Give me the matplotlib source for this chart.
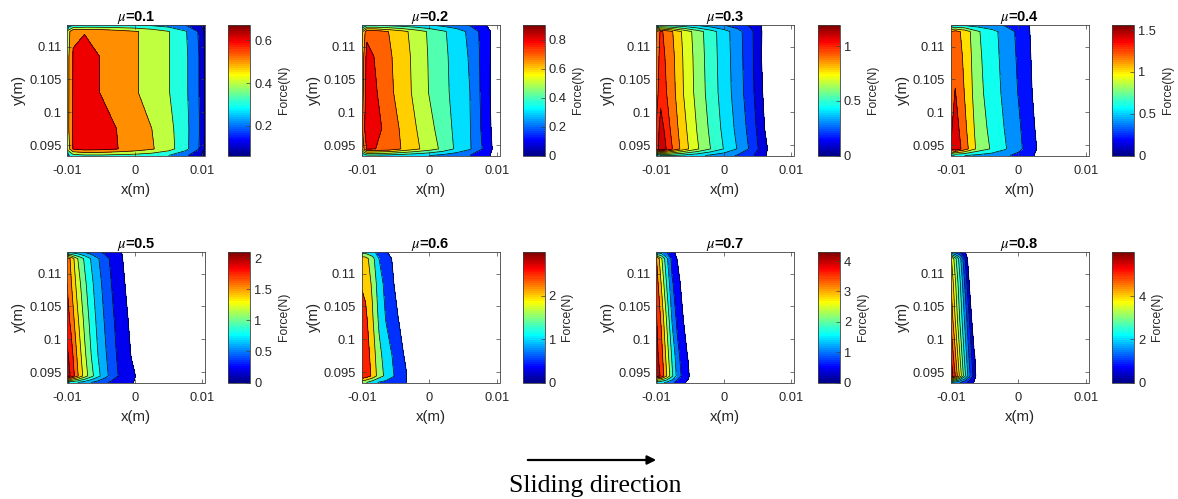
import numpy as np
import matplotlib
matplotlib.use("Agg")
import matplotlib.pyplot as plt
from matplotlib import colors as mcolors
from matplotlib.cm import ScalarMappable
from matplotlib.ticker import FuncFormatter

plt.rcParams['font.family'] = 'Liberation Sans'
plt.rcParams['axes.unicode_minus'] = False
plt.rcParams['mathtext.fontset'] = 'stix'

# friction coefficients, one panel each
mu_values = [0.1, 0.2, 0.3, 0.4, 0.5, 0.6, 0.7, 0.8]

# node rows (mm), bottom edge -> top edge
y_nodes = [93.4, 94.4, 97.5, 103.0, 108.5, 112.3, 113.3]

# node columns (mm) for each panel
x_nodes = [
    [-10.1, -9.2, -7.5, -5.0, -2.5, 0.0, 2.5, 5.0, 7.5, 9.5, 10.4],
    [-10.1, -9.3, -8.0, -6.0, -4.0, -2.0, 0.0, 2.0, 4.0, 6.0, 8.0, 9.6, 10.4],
    [-10.1, -9.4, -8.0, -6.0, -4.0, -2.0, 0.0, 2.0, 4.0, 5.5, 7.0, 10.4],
    [-10.1, -9.4, -8.0, -6.0, -4.0, -2.0, 0.0, 1.5, 3.0, 10.4],
    [-10.1, -9.5, -8.5, -7.5, -6.5, -5.5, -4.5, -3.5, -2.5, -1.5, -0.5, 0.5, 10.4],
    [-10.1, -9.5, -8.5, -7.5, -6.5, -5.5, -4.5, -3.5, -2.5, 10.4],
    [-10.1, -9.3, -8.5, -7.7, -6.9, -6.1, -5.3, -4.5, 10.4],
    [-10.1, -9.4, -8.7, -8.0, -7.3, -6.6, -5.9, 10.4],
]

# contact force at the nodes (N), rows follow y_nodes
force_mu01 = [
    [0.25, 0.36, 0.38, 0.38, 0.37, 0.36, 0.34, 0.30, 0.22, 0.12, 0.06],
    [0.42, 0.605, 0.64, 0.63, 0.60, 0.56, 0.51, 0.44, 0.33, 0.20, 0.09],
    [0.45, 0.62, 0.672, 0.645, 0.595, 0.56, 0.50, 0.43, 0.33, 0.21, 0.10],
    [0.45, 0.61, 0.645, 0.595, 0.55, 0.51, 0.46, 0.405, 0.32, 0.20, 0.09],
    [0.45, 0.605, 0.64, 0.595, 0.55, 0.51, 0.46, 0.405, 0.32, 0.20, 0.09],
    [0.42, 0.59, 0.595, 0.585, 0.545, 0.51, 0.465, 0.405, 0.31, 0.19, 0.08],
    [0.22, 0.28, 0.30, 0.30, 0.30, 0.30, 0.28, 0.25, 0.20, 0.12, 0.06],
]
force_mu02 = [
    [0.28, 0.37, 0.37, 0.36, 0.34, 0.32, 0.30, 0.27, 0.24, 0.20, 0.15, 0.07, 0.0],
    [0.60, 0.81, 0.80, 0.77, 0.69, 0.62, 0.55, 0.475, 0.38, 0.31, 0.19, 0.08, 0.0],
    [0.66, 0.90, 0.835, 0.758, 0.68, 0.603, 0.53, 0.45, 0.375, 0.305, 0.175, 0.07, 0.0],
    [0.62, 0.86, 0.81, 0.725, 0.65, 0.573, 0.494, 0.43, 0.365, 0.30, 0.167, 0.06, 0.0],
    [0.60, 0.84, 0.79, 0.715, 0.645, 0.568, 0.49, 0.425, 0.36, 0.29, 0.165, 0.065, 0.0],
    [0.55, 0.77, 0.76, 0.697, 0.63, 0.556, 0.484, 0.416, 0.352, 0.275, 0.16, 0.07, 0.0],
    [0.26, 0.36, 0.37, 0.36, 0.34, 0.32, 0.30, 0.27, 0.24, 0.19, 0.12, 0.04, 0.0],
]
force_mu03 = [
    [0.30, 0.50, 0.50, 0.47, 0.43, 0.38, 0.34, 0.29, 0.22, 0.15, 0.05, 0.0],
    [1.00, 1.197, 1.03, 0.85, 0.715, 0.60, 0.495, 0.395, 0.28, 0.17, 0.06, 0.0],
    [1.00, 1.15, 1.00, 0.83, 0.695, 0.58, 0.475, 0.375, 0.26, 0.145, 0.02, 0.0],
    [0.95, 1.06, 0.963, 0.798, 0.667, 0.557, 0.455, 0.353, 0.235, 0.12, 0.0, 0.0],
    [0.93, 1.04, 0.95, 0.79, 0.66, 0.55, 0.45, 0.345, 0.23, 0.105, 0.0, 0.0],
    [0.88, 1.02, 0.93, 0.775, 0.65, 0.545, 0.445, 0.34, 0.225, 0.11, 0.0, 0.0],
    [0.30, 0.45, 0.45, 0.42, 0.38, 0.34, 0.30, 0.25, 0.18, 0.10, 0.0, 0.0],
]
force_mu04 = [
    [0.50, 0.62, 0.60, 0.55, 0.50, 0.43, 0.35, 0.27, 0.14, 0.0],
    [1.40, 1.56, 1.30, 0.93, 0.78, 0.62, 0.45, 0.32, 0.17, 0.0],
    [1.35, 1.50, 1.25, 0.90, 0.75, 0.59, 0.43, 0.30, 0.14, 0.0],
    [1.30, 1.41, 1.19, 0.86, 0.71, 0.55, 0.39, 0.255, 0.10, 0.0],
    [1.25, 1.33, 1.16, 0.84, 0.69, 0.53, 0.37, 0.235, 0.08, 0.0],
    [1.20, 1.28, 1.13, 0.82, 0.675, 0.515, 0.355, 0.22, 0.06, 0.0],
    [0.45, 0.55, 0.55, 0.50, 0.45, 0.38, 0.30, 0.21, 0.05, 0.0],
]
force_mu05 = [
    [0.70, 0.85, 0.80, 0.70, 0.60, 0.52, 0.44, 0.36, 0.30, 0.25, 0.22, 0.15, 0.0],
    [2.10, 1.97, 1.62, 1.32, 1.07, 0.86, 0.68, 0.53, 0.40, 0.31, 0.24, 0.17, 0.0],
    [2.05, 1.90, 1.55, 1.25, 1.00, 0.80, 0.64, 0.49, 0.37, 0.28, 0.19, 0.09, 0.0],
    [1.90, 1.74, 1.43, 1.15, 0.92, 0.74, 0.585, 0.445, 0.335, 0.245, 0.15, 0.05, 0.0],
    [1.80, 1.62, 1.30, 1.05, 0.85, 0.68, 0.53, 0.40, 0.29, 0.20, 0.10, 0.02, 0.0],
    [1.75, 1.55, 1.20, 0.97, 0.78, 0.62, 0.48, 0.36, 0.26, 0.17, 0.07, 0.0, 0.0],
    [0.60, 0.70, 0.65, 0.58, 0.50, 0.43, 0.36, 0.30, 0.24, 0.16, 0.05, 0.0, 0.0],
]
force_mu06 = [
    [1.60, 1.55, 1.20, 0.95, 0.85, 0.75, 0.65, 0.52, 0.0, 0.0],
    [3.00, 2.85, 2.40, 1.75, 1.38, 1.06, 0.80, 0.56, 0.0, 0.0],
    [2.95, 2.80, 2.30, 1.65, 1.28, 0.98, 0.72, 0.40, 0.0, 0.0],
    [2.80, 2.64, 2.08, 1.41, 0.99, 0.73, 0.47, 0.0, 0.0, 0.0],
    [2.45, 2.35, 1.92, 1.22, 0.86, 0.58, 0.20, 0.0, 0.0, 0.0],
    [2.30, 2.20, 1.70, 1.00, 0.76, 0.46, 0.10, 0.0, 0.0, 0.0],
    [1.30, 1.30, 1.15, 0.80, 0.55, 0.30, 0.0, 0.0, 0.0, 0.0],
]
force_mu07 = [
    [1.50, 1.60, 1.40, 1.10, 0.80, 0.60, 0.40, 0.0, 0.0],
    [4.30, 3.90, 3.00, 2.10, 1.30, 0.85, 0.60, 0.0, 0.0],
    [4.20, 3.70, 2.80, 1.90, 1.15, 0.75, 0.45, 0.0, 0.0],
    [4.10, 3.40, 2.44, 1.44, 0.85, 0.54, 0.0, 0.0, 0.0],
    [3.85, 2.95, 1.95, 1.05, 0.75, 0.25, 0.0, 0.0, 0.0],
    [3.60, 2.60, 1.60, 0.85, 0.45, 0.0, 0.0, 0.0, 0.0],
    [1.20, 1.20, 1.00, 0.65, 0.30, 0.0, 0.0, 0.0, 0.0],
]
force_mu08 = [
    [2.00, 1.80, 1.50, 1.20, 0.80, 0.45, 0.0, 0.0],
    [6.05, 5.00, 3.85, 2.70, 1.65, 0.80, 0.0, 0.0],
    [5.60, 4.60, 3.50, 2.40, 1.40, 0.60, 0.0, 0.0],
    [5.00, 4.00, 2.95, 1.95, 1.00, 0.0, 0.0, 0.0],
    [4.60, 3.60, 2.60, 1.50, 0.47, 0.0, 0.0, 0.0],
    [4.20, 3.20, 2.20, 1.10, 0.10, 0.0, 0.0, 0.0],
    [1.50, 1.30, 1.00, 0.60, 0.0, 0.0, 0.0, 0.0],
]
forces = [force_mu01, force_mu02, force_mu03, force_mu04,
          force_mu05, force_mu06, force_mu07, force_mu08]

level_steps = [0.1, 0.1, 0.1, 0.2, 0.2, 0.5, 0.5, 0.5]
cbar_ticks = [[0.2, 0.4, 0.6], [0, 0.2, 0.4, 0.6, 0.8], [0, 0.5, 1], [0, 0.5, 1, 1.5],
              [0, 0.5, 1, 1.5, 2], [0, 1, 2], [0, 1, 2, 3, 4], [0, 2, 4]]
x_ticks = [-0.01, 0, 0.01]
y_ticks = [0.095, 0.1, 0.105, 0.11]


def matlab_jet(m=64):
    # same construction as MATLAB's jet(m)
    n = int(np.ceil(m / 4))
    u = np.r_[np.arange(1, n + 1) / n, np.ones(n - 1), np.arange(n, 0, -1) / n]
    g = int(np.ceil(n / 2)) - (m % 4 == 1) + np.arange(1, len(u) + 1)
    r, b = g + n, g - n
    J = np.zeros((m, 3))
    J[g[g <= m] - 1, 1] = u[g <= m]
    J[r[r <= m] - 1, 0] = u[r <= m]
    J[b[b >= 1] - 1, 2] = u[b >= 1]
    return mcolors.ListedColormap(J)


jet = matlab_jet()

W, H = 1178, 499
fig = plt.figure(figsize=(W / 100, H / 100), dpi=100)

ax_left = [67, 361.5, 656, 950.5]
cb_left = [228.3, 522.5, 817.7, 1112.3]
row_top = [25, 252]
ax_w, cb_w, ax_h = 138, 22, 130.5

fmt = FuncFormatter(lambda v, p: f'{v:g}')
frame = '#404040'
tick_fs = 9.3

for k, mu in enumerate(mu_values):
    row, col = divmod(k, 4)
    bottom = 1 - (row_top[row] + ax_h) / H
    ax = fig.add_axes([ax_left[col] / W, bottom, ax_w / W, ax_h / H])
    cax = fig.add_axes([cb_left[col] / W, bottom, cb_w / W, ax_h / H])

    xs = np.array(x_nodes[k]) * 1e-3
    ys = np.array(y_nodes) * 1e-3
    Z = np.array(forces[k])
    vmin, vmax = Z.min(), Z.max()
    step = level_steps[k]

    lines = np.arange(step, vmax, step)
    fill = lines.copy()
    if vmin > 0:
        fill = np.r_[vmin - 1e-9, fill]
    fill = np.r_[fill, vmax + 1e-9]
    norm = mcolors.Normalize(vmin, vmax)
    # each band takes the colour of its lower level
    band_cols = jet(np.clip(norm(fill[:-1]), 0, 0.9999))
    ax.contourf(xs, ys, Z, levels=fill, colors=band_cols)
    ax.contour(xs, ys, Z, levels=lines, colors='k', linewidths=0.5)

    ax.set_xlim(-0.0101, 0.0104)
    ax.set_ylim(0.0934, 0.1133)
    ax.set_xticks(x_ticks)
    ax.set_yticks(y_ticks)
    ax.xaxis.set_major_formatter(fmt)
    ax.yaxis.set_major_formatter(fmt)
    ax.tick_params(direction='in', length=3, width=0.5, top=True, right=True,
                   labelsize=tick_fs, colors=frame, labelcolor='#262626', pad=4)
    ax.tick_params(axis='x', pad=7)
    for s in ax.spines.values():
        s.set_color(frame)
        s.set_linewidth(0.6)
    ax.set_xlabel('x(m)', fontsize=10.8, color='#262626', labelpad=4)
    ax.set_ylabel('y(m)', fontsize=10.8, color='#262626', labelpad=2)
    ax.set_title(r'$\mu$' + f'={mu:g}', fontsize=10.5, fontweight='bold', pad=3)

    cb = fig.colorbar(ScalarMappable(norm=norm, cmap=jet), cax=cax)
    cb.set_ticks(cbar_ticks[k])
    cb.ax.yaxis.set_major_formatter(fmt)
    cb.ax.tick_params(direction='in', length=3, width=0.5, labelsize=tick_fs,
                      colors=frame, labelcolor='#262626', pad=3)
    cb.outline.set_edgecolor(frame)
    cb.outline.set_linewidth(0.6)
    cb.set_label('Force(N)', fontsize=8.8, color='#262626', labelpad=4)

# sliding direction arrow and caption
fig.patches.append(matplotlib.patches.FancyArrowPatch(
    (525 / W, 1 - 460 / H), (659 / W, 1 - 460 / H), transform=fig.transFigure,
    arrowstyle='-|>', mutation_scale=13, lw=1.6, color='k'))
fig.text(595 / W, 1 - 486 / H, 'Sliding direction', fontsize=18.5,
         family='Liberation Serif', ha='center', va='center')

fig.savefig('out.png', dpi=100)
